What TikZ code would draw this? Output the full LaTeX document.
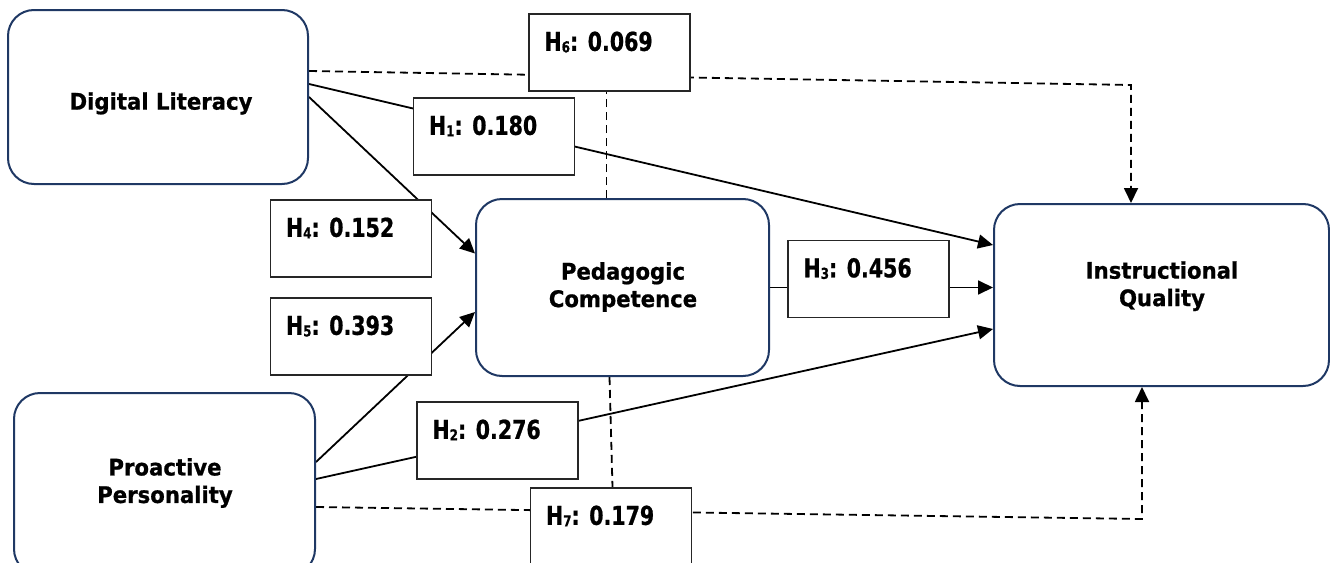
\documentclass[tikz,border=0pt]{standalone}
\usepackage{fontspec}
\setmainfont{DejaVu Sans}[FakeStretch=0.93,BoldFeatures={FakeBold=0.8}]
\newfontfamily\lblfont{DejaVu Sans}[FakeStretch=0.79,BoldFeatures={FakeBold=0.8}]
\usetikzlibrary{arrows.meta}
\definecolor{navy}{RGB}{31,56,100}
\newcommand\hsub[1]{\raisebox{-1.5pt}{\fontsize{15}{15}\selectfont #1}}
\pgfdeclarelayer{bg}
\pgfsetlayers{bg,main}
\begin{document}
\begin{tikzpicture}[x=1pt,y=-1pt,
  mainbox/.style={draw=navy,line width=2pt,rounded corners=26pt,fill=white,inner sep=0pt},
  mtext/.style={font=\fontsize{22.8}{27.5}\selectfont\bfseries,align=center,inner sep=0pt},
  hbox/.style={draw=black!85,line width=1.3pt,fill=white,minimum width=161pt,minimum height=77pt,inner sep=0pt},
  htext/.style={font=\lblfont\fontsize{26}{30}\selectfont\bfseries,anchor=base west,inner sep=0pt},
  conn/.style={line width=1.8pt,-{Triangle[length=15pt,width=14pt]}},
  dconn/.style={line width=1.8pt,dash pattern=on 8pt off 5pt,-{Triangle[length=15pt,width=14pt]}},
  dplain/.style={line width=1.8pt,dash pattern=on 8pt off 5pt}
]
\useasboundingbox (0,0) rectangle (1330,562);

% main boxes
\node[mainbox,minimum width=300pt,minimum height=174pt] (dl) at (158,97) {};
\node[mtext] (dlt) at (161,103.4) {Digital Literacy};
\node[mainbox,minimum width=293pt,minimum height=177pt] (pc) at (622.5,287.5) {};
\node[mtext] (pct) at (623,287) {Pedagogic\\Competence};
\node[mainbox,minimum width=335pt,minimum height=182pt] (iq) at (1161.5,295) {};
\node[mtext] (iqt) at (1162,286.2) {Instructional\\Quality};
\node[mainbox,minimum width=301pt,minimum height=182pt] (pp) at (164.5,484) {};
\node[mtext] (ppt) at (165,483) {Proactive\\Personality};

% hypothesis boxes
\node[hbox] (h6) at (609.5,52.5) {};
\node[htext] (h6t) at ([xshift=16pt,yshift=-37.5pt]h6.north west) {H\hsub{6}: 0.069};
\node[hbox] (h1) at (494,136.5) {};
\node[htext] (h1t) at ([xshift=16pt,yshift=-37.5pt]h1.north west) {H\hsub{1}: 0.180};
\node[hbox] (h4) at (351,238.5) {};
\node[htext] (h4t) at ([xshift=16pt,yshift=-37.5pt]h4.north west) {H\hsub{4}: 0.152};
\node[hbox] (h5) at (351,336.5) {};
\node[htext] (h5t) at ([xshift=16pt,yshift=-37.5pt]h5.north west) {H\hsub{5}: 0.393};
\node[hbox] (h2) at (497.5,440.5) {};
\node[htext] (h2t) at ([xshift=16pt,yshift=-37.5pt]h2.north west) {H\hsub{2}: 0.276};
\node[hbox] (h3) at (868.5,279) {};
\node[htext] (h3t) at ([xshift=16pt,yshift=-37.5pt]h3.north west) {H\hsub{3}: 0.456};
\node[hbox] (h7) at (611,526.5) {};
\node[htext] (h7t) at ([xshift=16pt,yshift=-37.5pt]h7.north west) {H\hsub{7}: 0.179};

\coordinate (c6) at (1131,85);
\coordinate (c7) at (1142,519);

\begin{pgfonlayer}{bg}
  % direct paths
  \draw[conn] ([yshift=13pt]dl.east) -- ([yshift=50pt]iq.west);
  \draw[conn] (dl.east) -- ([yshift=34pt]pc.west);
  \draw[conn] ([yshift=22pt]pp.east) -- ([yshift=-24.5pt]pc.west);
  \draw[conn] ([yshift=5pt]pp.east) -- ([yshift=-34pt]iq.west);
  \draw[conn] (pc.east) -- (pc.east -| iq.west);
  % indirect paths
  \draw[dconn] ([yshift=26pt]dl.east) -- (c6) -- (c6 |- iq.north);
  \draw[dplain] ([xshift=-16pt]pc.north) -- ([xshift=-16pt]pc.north |- h6.south);
  \draw[dconn] ([yshift=-23pt]pp.east) -- (c7) -- (c7 |- iq.south);
  \draw[dplain] ([xshift=-13pt]pc.south) -- ([xshift=1.5pt]h7.north);
\end{pgfonlayer}
\end{tikzpicture}
\end{document}
